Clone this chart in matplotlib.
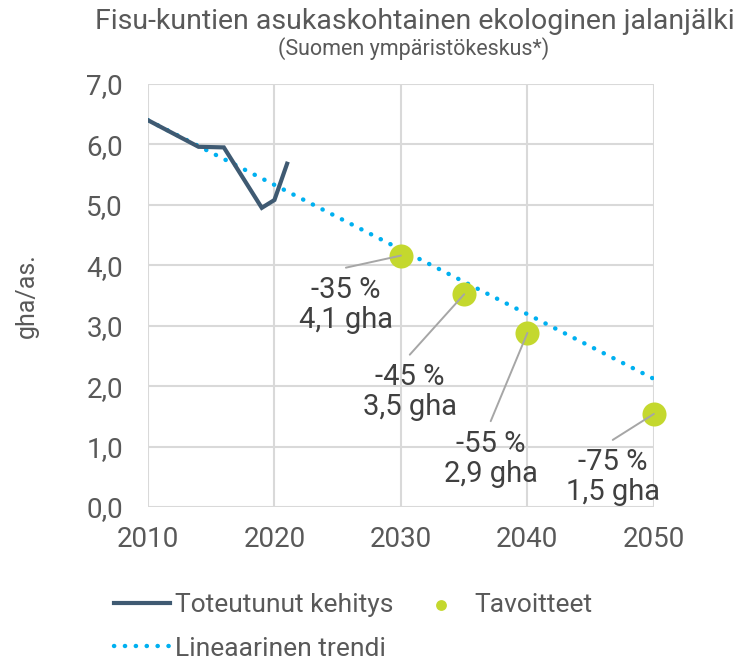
"""Fisu-kuntien ekologinen jalanjälki: toteuma, trendi ja tavoitteet."""

import matplotlib.pyplot as plt

plt.rcParams["font.family"] = ["Roboto", "DejaVu Sans"]

# toteutunut kehitys (gha/as.)
actual_years = [2010, 2014, 2016, 2019, 2020, 2021]
actual_values = [6.40, 5.96, 5.95, 4.95, 5.08, 5.68]

# lineaarinen trendi
trend_years = [2010, 2050]
trend_values = [6.40, 2.12]

# tavoitteet
target_years = [2030, 2035, 2040, 2050]
target_values = [4.16, 3.52, 2.88, 1.54]
target_labels = ["-35 %\n4,1 gha", "-45 %\n3,5 gha", "-55 %\n2,9 gha", "-75 %\n1,5 gha"]

x_ticks = [2010, 2020, 2030, 2040, 2050]
y_ticks = [0, 1, 2, 3, 4, 5, 6, 7]

# label anchor points (leader start), layout only
label_pos = [(2025.65, 3.96), (2030.7, 2.52), (2037.1, 1.42), (2046.75, 1.11)]

TEXT = "#595959"
GRID = "#d9d9d9"

fig = plt.figure(figsize=(7.38, 6.61), dpi=100)
ax = fig.add_axes([0.2005, 0.233, 0.6855, 0.640])

ax.plot(trend_years, trend_values, color="#00b0f0", linestyle=(0, (0.05, 2.4)),
        linewidth=3.2, dash_capstyle="round", zorder=3, label="Lineaarinen trendi")
ax.plot(actual_years, actual_values, color="#3f5a72", linewidth=3.0,
        solid_joinstyle="miter", zorder=4, label="Toteutunut kehitys")
ax.scatter(target_years, target_values, s=300, color="#c4d82e", zorder=5,
           linewidths=0, clip_on=False, label="Tavoitteet")

for yr, val, lab, (lx, ly) in zip(target_years, target_values, target_labels, label_pos):
    ax.annotate("", xy=(yr, val), xytext=(lx, ly),
                arrowprops=dict(arrowstyle="-", color="#a6a6a6", lw=1.4,
                                shrinkA=0, shrinkB=0), zorder=6)
    ax.annotate(lab, xy=(lx, ly), xytext=(0, -6), textcoords="offset points",
                ha="center", va="top", fontsize=21, color="#404040",
                linespacing=1.1, multialignment="center", zorder=7)

ax.set_xlim(2010, 2050)
ax.set_ylim(0, 7)
ax.set_xticks(x_ticks)
ax.set_yticks(y_ticks)
ax.set_yticklabels([f"{v:.1f}".replace(".", ",") for v in y_ticks])
ax.tick_params(axis="both", length=0, labelsize=20, labelcolor=TEXT)
ax.tick_params(axis="y", pad=18)
ax.tick_params(axis="x", pad=14)
ax.grid(True, color=GRID, linewidth=1.5)
ax.set_axisbelow(True)
for side in ax.spines.values():
    side.set_visible(False)

ax.set_ylabel("gha/as.", fontsize=18, color=TEXT)
ax.yaxis.set_label_coords(-0.215, 0.5)

fig.text(0.562, 0.968, "Fisu-kuntien asukaskohtainen ekologinen jalanjälki",
         ha="center", va="center", fontsize=20.5, color=TEXT)
fig.text(0.561, 0.927, "(Suomen ympäristökeskus*)",
         ha="center", va="center", fontsize=15.5, color=TEXT)

handles, labels = ax.get_legend_handles_labels()
order = [1, 0, 2]
fig.legend([handles[i] for i in order], [labels[i] for i in order],
           loc="upper left", bbox_to_anchor=(0.155, 0.103), ncol=2,
           frameon=False, fontsize=19, labelcolor=TEXT, handlelength=2.1,
           handletextpad=0.2, columnspacing=0.75, labelspacing=0.75,
           markerscale=0.45, borderaxespad=0, borderpad=0)

fig.savefig("out.png", dpi=100)
